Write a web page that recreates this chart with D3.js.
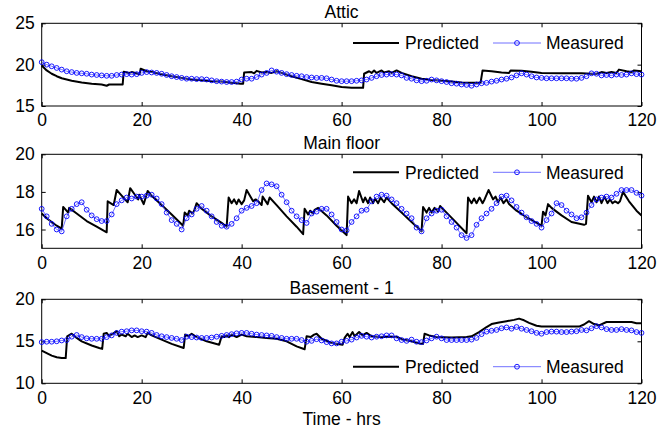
<!DOCTYPE html>
<html>
<head>
<meta charset="utf-8">
<script src="https://cdn.jsdelivr.net/npm/d3@7"></script>
<style>
  body { margin: 0; background: #fff; }
  text { font-family: "Liberation Sans", Arial, sans-serif; fill: #000; }
</style>
</head>
<body>
<div id="graphic"></div>
<script>
// hourly measured temperatures, t = 0..120
var atticMeasured = [20.3,20.0,19.8,19.6,19.4,19.2,19.1,19.0,18.95,18.9,18.8,18.75,18.7,18.65,18.65,18.75,18.8,18.85,18.8,18.85,
  19.0,19.1,19.05,19.0,18.9,18.75,18.6,18.5,18.4,18.3,18.3,18.25,18.25,18.2,18.1,18.0,17.95,17.9,17.9,17.95,
  18.2,18.3,18.3,18.5,18.8,19.0,19.3,19.15,19.0,18.85,18.75,18.65,18.6,18.5,18.45,18.4,18.4,18.35,18.2,18.05,
  18.0,18.0,18.0,18.05,18.1,18.2,18.4,18.6,18.75,18.8,18.85,18.8,18.7,18.4,18.3,18.1,18.0,18.05,18.2,18.1,
  18.0,17.9,17.75,17.7,17.6,17.55,17.45,17.6,17.75,17.8,17.95,18.05,18.2,18.3,18.45,18.7,18.95,18.8,18.6,18.45,
  18.4,18.35,18.35,18.35,18.35,18.35,18.3,18.3,18.4,18.6,18.95,18.9,18.7,18.75,18.7,18.8,18.75,18.8,18.95,18.85,18.8];

var mainMeasured = [17.1,16.7,16.3,16.0,15.9,16.7,17.1,17.35,17.45,17.05,16.75,16.55,16.45,16.45,16.8,17.35,17.55,17.7,17.65,17.75,
  17.75,17.8,17.85,17.65,17.35,16.9,16.5,16.3,16.0,16.6,16.8,17.1,17.25,17.0,16.7,16.4,16.2,16.15,16.3,16.6,
  17.0,17.15,17.25,17.4,18.1,18.45,18.4,18.3,17.85,17.45,17.0,16.7,16.5,16.35,16.85,16.95,17.1,17.1,16.8,16.4,
  16.0,15.95,16.4,16.7,17.0,17.05,17.5,17.75,17.85,17.8,17.6,17.4,17.1,16.85,16.6,16.1,15.9,16.6,16.85,17.0,
  17.05,16.7,16.4,16.1,15.7,15.55,15.7,16.25,16.6,16.85,17.1,17.4,17.75,17.8,17.55,17.2,16.9,16.65,16.45,16.3,
  16.1,16.5,16.85,17.4,17.3,17.0,16.8,16.6,16.65,16.9,17.3,17.6,17.7,17.75,17.7,17.9,18.1,18.1,18.1,17.95,17.8];

var basementMeasured = [14.9,14.95,14.95,15.0,15.1,15.15,15.55,15.75,15.5,15.35,15.3,15.3,15.3,15.5,15.7,16.0,16.15,16.2,16.3,16.3,
  16.2,16.15,16.0,15.75,15.6,15.5,15.4,15.3,15.15,15.55,15.5,15.45,15.4,15.4,15.45,15.55,15.65,15.75,15.85,15.95,
  16.0,16.0,15.9,15.8,15.75,15.7,15.65,15.5,15.4,15.3,15.3,15.3,15.15,14.95,15.05,15.25,15.1,14.9,14.75,14.75,
  14.95,15.05,15.2,15.45,15.65,15.55,15.45,15.55,15.6,15.7,15.7,15.35,15.15,15.05,15.2,14.95,14.9,15.1,15.35,15.55,
  15.35,15.15,15.15,15.15,15.15,15.15,15.2,15.4,15.85,16.15,16.25,16.35,16.55,16.65,16.5,16.7,16.5,16.35,16.2,16.0,
  15.9,16.1,16.15,16.15,16.1,16.1,16.15,16.2,16.35,16.3,16.55,16.8,16.65,16.45,16.35,16.35,16.45,16.35,16.3,16.1,16.0];

// predicted model output, [hour, temperature]
var atticPredicted = [[0,19.9],[1,19.3],[2,18.9],[3,18.6],[4,18.35],[6,18.05],[8,17.85],[10,17.7],[12,17.6],[13,17.45],[13.5,17.6],
  [16.2,17.6],[16.4,19.15],[17.5,19.0],[18,19.1],[19.6,18.85],[19.8,19.5],[21,19.2],[22,19.1],[24,18.85],[26,18.6],[28,18.4],
  [30,18.2],[32,18.1],[34,18.0],[36,17.95],[38,17.8],[39.8,17.7],[40.3,17.7],[40.5,19.05],[42,19.1],[42.5,18.95],[43,19.25],
  [44,19.05],[45,19.1],[46,19.0],[47,19.2],[48,19.0],[50,18.6],[52,18.25],[54,17.9],[56,17.7],[58,17.5],[60,17.3],[62,17.2],
  [64.3,17.2],[64.5,18.9],[65.5,19.2],[66,19.0],[66.5,19.3],[67,19.0],[68,19.3],[68.5,19.05],[69.5,19.2],[70,19.0],[71,19.3],
  [72,19.0],[74,18.6],[76,18.3],[78,18.15],[80,18.05],[82,17.95],[84,17.85],[86,17.8],[87.8,17.8],[88.2,19.3],[90,19.2],
  [92,19.05],[93.5,19.0],[93.8,19.3],[96,19.25],[98,19.15],[100,19.0],[104,18.95],[108,18.95],[110,18.9],[111,18.9],[112,19.1],
  [113,19.0],[114,19.1],[115,19.0],[115.5,19.4],[117,19.2],[118,19.1],[118.5,19.3],[120,19.2]];

var mainPredicted = [[0,16.85],[1,16.6],[2,16.4],[3,16.2],[4,16.05],[4.3,17.2],[5.3,16.9],[5.5,17.15],[7,16.85],[9,16.45],[11,16.15],
  [13,15.85],[13.2,17.5],[14.4,17.3],[15,18.1],[16,17.8],[17.2,17.45],[17.7,18.2],[18.5,17.9],[19.3,17.6],[19.5,17.85],[20.4,17.35],
  [21.2,18.05],[22,17.8],[24,17.3],[26,16.8],[28.3,16.2],[28.6,16.9],[29.2,16.75],[29.5,17.0],[30.2,16.85],[30.5,17.0],[31,17.4],
  [32,17.1],[34,16.7],[36,16.35],[37,16.15],[37.4,17.7],[38,17.4],[38.5,17.6],[39,17.35],[39.4,17.6],[40,17.35],[40.5,17.55],
  [41,18.1],[42.3,17.5],[42.8,17.6],[43.3,17.5],[44,17.3],[44.2,17.75],[45.2,17.35],[45.6,17.7],[47,17.3],[49,16.7],[51,16.15],
  [52.3,15.75],[52.6,17.1],[53.3,16.8],[53.7,17.0],[54.3,16.85],[54.6,17.05],[55.3,17.15],[57,16.75],[59,16.2],[61,15.7],
  [61.3,17.75],[62,17.4],[62.5,17.6],[63,17.4],[63.5,18.05],[64.3,17.45],[64.7,17.7],[65.3,17.4],[65.7,17.7],[66.3,17.4],
  [66.7,17.65],[67.3,17.4],[67.8,17.7],[68.5,17.45],[69,17.7],[70,17.4],[72,16.9],[74,16.4],[76,15.9],[76.3,17.2],[77,16.9],
  [77.5,17.15],[78,16.9],[78.6,17.15],[79.3,16.95],[79.7,17.25],[81,16.9],[83,16.35],[85,15.8],[85.3,17.7],[86,17.4],[86.5,17.65],
  [87,17.4],[87.6,17.7],[88.2,17.4],[88.6,17.6],[89.4,18.1],[90.3,17.6],[90.8,17.75],[91.3,17.45],[91.8,17.7],[92.4,17.4],
  [93,17.6],[93.5,17.35],[95,17.0],[97,16.65],[99,16.35],[100,16.2],[100.3,16.95],[100.8,16.75],[101.3,17.35],[102,17.15],
  [104,16.75],[106,16.4],[108.5,16.25],[108.9,16.3],[109.3,17.8],[110,17.45],[110.5,17.75],[111,17.45],[111.5,17.75],[112,17.4],
  [112.6,17.75],[113.2,17.4],[113.7,17.6],[114.2,17.4],[114.7,17.5],[115.3,17.4],[115.7,17.5],[116.3,18.0],[117.5,17.5],
  [119,17.0],[120,16.75]];

var basementPredicted = [[0,13.9],[1,13.6],[2,13.3],[3,13.1],[4,13.0],[4.8,13.0],[5.1,15.6],[6,15.9],[7,15.4],[8,15.0],[10,14.5],
  [11.5,14.2],[12.1,14.1],[12.4,15.9],[13,16.0],[13.5,15.6],[14.2,15.9],[15,16.2],[15.5,15.6],[16,15.8],[16.8,15.6],[17.2,15.9],
  [18,15.5],[18.6,15.7],[19.2,15.5],[20,15.7],[20.8,15.5],[21.2,16.0],[22,15.7],[24,15.2],[26,14.7],[28.4,14.2],[28.7,15.8],
  [29.3,15.6],[30,15.9],[31,15.5],[33,15.0],[35.5,14.6],[36,15.6],[36.5,15.5],[37,15.7],[37.5,15.5],[38,15.8],[39,15.5],[40,15.8],
  [41,15.6],[43,15.5],[45,15.4],[47,15.3],[49,15.0],[51,14.4],[52.6,14.05],[53,15.6],[53.8,15.5],[54.5,15.8],[55,15.9],[56,15.3],
  [58,14.8],[60.2,14.6],[60.6,15.4],[61.2,15.9],[61.6,15.5],[62.2,16.1],[62.6,15.6],[63.5,16.1],[64.2,15.7],[65,16.0],[66,15.6],
  [68,15.5],[70,15.55],[71,15.55],[72,15.25],[74,15.0],[75.5,14.75],[76.3,14.7],[76.6,15.9],[77.5,15.7],[79,15.5],[82,15.45],
  [85,15.5],[86,15.6],[87.5,16.1],[89,16.7],[90,17.05],[91.5,17.25],[93,17.4],[94.5,17.55],[95.5,17.7],[96.5,17.5],[97.5,17.2],
  [99,16.85],[100,16.75],[107.5,16.75],[108.5,17.0],[109.5,17.4],[110.5,17.05],[111.5,16.9],[113,17.3],[118,17.3],[119,17.15],
  [120,17.15]];

var titles = ["Attic", "Main floor", "Basement - 1"];
var yDomains = [[15, 25], [15, 20], [10, 20]];
var yTicks = [[15, 20, 25], [16, 18, 20], [10, 15, 20]];
var xTicks = [0, 20, 40, 60, 80, 100, 120];
var legendNames = ["Predicted", "Measured"];

var panels = [
  {title: titles[0], measured: atticMeasured, predicted: atticPredicted, y: yDomains[0], ticks: yTicks[0], top: 23.3, bottom: 106, legendY: 43},
  {title: titles[1], measured: mainMeasured, predicted: mainPredicted, y: yDomains[1], ticks: yTicks[1], top: 154.3, bottom: 248.3, legendY: 172.3},
  {title: titles[2], measured: basementMeasured, predicted: basementPredicted, y: yDomains[2], ticks: yTicks[2], top: 299.3, bottom: 383.3, legendY: 366.7}
];

var width = 672, height = 433, fs = 17.5;
var left = 41.7, right = 641.5;
var fmt = d3.format("d");

var svg = d3.select("#graphic").append("svg")
  .attr("width", width)
  .attr("height", height);

var x = d3.scaleLinear().domain([0, 120]).range([left, right]);

panels.forEach(function(p) {
  var y = d3.scaleLinear().domain(p.y).range([p.bottom, p.top]);
  var g = svg.append("g");

  // axes, ticks pointing inward on all four sides
  g.append("g")
    .attr("transform", "translate(0," + p.bottom + ")")
    .call(d3.axisBottom(x).tickValues(xTicks).tickFormat(fmt).tickSizeInner(-4).tickSizeOuter(0).tickPadding(8));
  g.append("g")
    .attr("transform", "translate(0," + p.top + ")")
    .call(d3.axisTop(x).tickValues(xTicks).tickSizeInner(-4).tickSizeOuter(0).tickFormat(""));
  g.append("g")
    .attr("transform", "translate(" + left + ",0)")
    .call(d3.axisLeft(y).tickValues(p.ticks).tickFormat(fmt).tickSizeInner(-4).tickSizeOuter(0).tickPadding(7));
  g.append("g")
    .attr("transform", "translate(" + right + ",0)")
    .call(d3.axisRight(y).tickValues(p.ticks).tickSizeInner(-4).tickSizeOuter(0).tickFormat(""));

  g.selectAll(".domain").remove();
  g.selectAll(".tick line").attr("stroke", "#000");
  g.selectAll(".tick text").style("font-size", fs + "px").attr("fill", "#000");

  g.append("rect")
    .attr("x", left).attr("y", p.top)
    .attr("width", right - left).attr("height", p.bottom - p.top)
    .attr("fill", "none").attr("stroke", "#000").attr("stroke-width", 1);

  // title
  g.append("text")
    .attr("x", (left + right) / 2).attr("y", p.top - 5.5)
    .attr("text-anchor", "middle")
    .style("font-size", fs + "px")
    .text(p.title);

  // legend, white backing, no border
  var lg = g.append("g");
  lg.append("rect")
    .attr("x", 348).attr("y", p.legendY - 11)
    .attr("width", 284).attr("height", 22)
    .attr("fill", "#fff");
  lg.append("line")
    .attr("x1", 353).attr("x2", 399).attr("y1", p.legendY).attr("y2", p.legendY)
    .attr("stroke", "#000").attr("stroke-width", 2);
  lg.append("text")
    .attr("x", 405).attr("y", p.legendY).attr("dy", "0.36em")
    .style("font-size", fs + "px").text(legendNames[0]);
  lg.append("line")
    .attr("x1", 493).attr("x2", 541).attr("y1", p.legendY).attr("y2", p.legendY)
    .attr("stroke", "#4d4dff").attr("stroke-width", 0.8);
  lg.append("circle")
    .attr("cx", 517).attr("cy", p.legendY).attr("r", 2.4)
    .attr("fill", "none").attr("stroke", "#0000ff").attr("stroke-width", 0.9);
  lg.append("text")
    .attr("x", 546).attr("y", p.legendY).attr("dy", "0.36em")
    .style("font-size", fs + "px").text(legendNames[1]);

  // predicted line
  g.append("path")
    .datum(p.predicted)
    .attr("fill", "none")
    .attr("stroke", "#000")
    .attr("stroke-width", 2)
    .attr("stroke-linejoin", "round")
    .attr("d", d3.line()
      .x(function(d) { return x(d[0]); })
      .y(function(d) { return y(d[1]); }));

  // measured line + markers, one per hour
  g.append("path")
    .datum(p.measured)
    .attr("fill", "none")
    .attr("stroke", "#4d4dff")
    .attr("stroke-width", 0.8)
    .attr("d", d3.line()
      .x(function(d, i) { return x(i); })
      .y(function(d) { return y(d); }));

  g.selectAll(".pt")
    .data(p.measured)
    .enter().append("circle")
    .attr("class", "pt")
    .attr("cx", function(d, i) { return x(i); })
    .attr("cy", function(d) { return y(d); })
    .attr("r", 2.4)
    .attr("fill", "none")
    .attr("stroke", "#0000ff")
    .attr("stroke-width", 0.9);
});

svg.append("text")
  .attr("x", (left + right) / 2).attr("y", 425)
  .attr("text-anchor", "middle")
  .style("font-size", fs + "px")
  .text("Time - hrs");
</script>
</body>
</html>
